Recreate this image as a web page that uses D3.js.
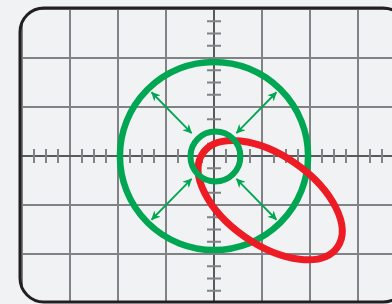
<!DOCTYPE html>
<html><head><meta charset="utf-8">
<script src="https://cdn.jsdelivr.net/npm/d3@7"></script>
<style>html,body{margin:0;padding:0;background:#f1f2f4;}svg{display:block;}</style>
</head><body>
<script>
// grid divisions (units)
const gridX = [-4,-3,-2,-1,0,1,2,3,4];
const gridY = [-3,-2,-1,0,1,2,3];
const minorStep = 0.25;
// green circles: centers and radii (units)
const circleCenters = [[0,0],[0.03,-0.01]];
const circleRadii = [1.96, 0.52];
const circleWidths = [6.5, 6];
// red ellipse
const ellipseCenter = [1.17, -0.9];
const ellipseAxes = [1.71, 0.93];
const ellipseAngle = 35;
// arrows: angle (deg) and radial span (units)
const arrowAngles = [45, 135, 225, 315];
const arrowSpan = [0.66, 1.84];

const W = 392, H = 304;
const x = d3.scaleLinear().domain([-4,4]).range([22,406]);
const y = d3.scaleLinear().domain([-3,3]).range([303,9]);
const unit = x(1)-x(0);

const svg = d3.select("body").append("svg").attr("width",W).attr("height",H);
const defs = svg.append("defs");
const fx0 = x(-4)-2, fx1 = x(4)+1, fy0 = y(3)-1, fy1 = y(-3)-1;
defs.append("clipPath").attr("id","frame").append("rect")
  .attr("x",fx0).attr("y",fy0).attr("width",fx1-fx0).attr("height",fy1-fy0).attr("rx",24);
const mk = defs.append("marker").attr("id","ah").attr("viewBox","0 0 10 10")
  .attr("refX",9.5).attr("refY",5).attr("markerWidth",5).attr("markerHeight",5)
  .attr("markerUnits","strokeWidth").attr("orient","auto-start-reverse");
mk.append("path").attr("d","M0,0 L10,5 L0,10 L3,5 Z").attr("fill","#00a651");

const g = svg.append("g").attr("clip-path","url(#frame)");
// grid
g.selectAll(".gx").data(gridX).join("line")
  .attr("x1",d=>x(d)).attr("x2",d=>x(d)).attr("y1",fy0).attr("y2",fy1)
  .attr("stroke",d=>d===0?"#58595b":"#808285").attr("stroke-width",2);
g.selectAll(".gy").data(gridY).join("line")
  .attr("y1",d=>y(d)).attr("y2",d=>y(d)).attr("x1",fx0).attr("x2",fx1)
  .attr("stroke",d=>d===0?"#58595b":"#808285").attr("stroke-width",2);
// minor ticks
const mx = d3.range(-4, 4.001, minorStep).filter(v=>Math.abs(v-Math.round(v))>1e-6);
const my = d3.range(-3, 3.001, minorStep).filter(v=>Math.abs(v-Math.round(v))>1e-6);
g.selectAll(".tx").data(mx).join("line")
  .attr("x1",d=>x(d)).attr("x2",d=>x(d)).attr("y1",y(0)-7).attr("y2",y(0)+7)
  .attr("stroke","#808285").attr("stroke-width",2);
g.selectAll(".ty").data(my).join("line")
  .attr("y1",d=>y(d)).attr("y2",d=>y(d)).attr("x1",x(0)-7).attr("x2",x(0)+7)
  .attr("stroke","#808285").attr("stroke-width",2);

// frame
svg.append("rect").attr("x",fx0).attr("y",fy0).attr("width",fx1-fx0).attr("height",fy1-fy0)
  .attr("rx",24).attr("fill","none").attr("stroke","#231f20").attr("stroke-width",3);

// big circle
svg.append("circle").attr("cx",x(circleCenters[0][0])).attr("cy",y(circleCenters[0][1]))
  .attr("r",circleRadii[0]*unit).attr("fill","none").attr("stroke","#00a651").attr("stroke-width",circleWidths[0]);
// red ellipse
svg.append("ellipse").attr("cx",0).attr("cy",0)
  .attr("rx",ellipseAxes[0]*unit).attr("ry",ellipseAxes[1]*unit)
  .attr("transform",`translate(${x(ellipseCenter[0])},${y(ellipseCenter[1])}) rotate(${ellipseAngle})`)
  .attr("fill","none").attr("stroke","#ed1c24").attr("stroke-width",7);
// small circle
svg.append("circle").attr("cx",x(circleCenters[1][0])).attr("cy",y(circleCenters[1][1]))
  .attr("r",circleRadii[1]*unit).attr("fill","none").attr("stroke","#00a651").attr("stroke-width",circleWidths[1]);
// arrows
svg.selectAll(".arr").data(arrowAngles).join("line")
  .attr("x1",a=>x(arrowSpan[0]*Math.cos(a*Math.PI/180)))
  .attr("y1",a=>y(arrowSpan[0]*Math.sin(a*Math.PI/180)))
  .attr("x2",a=>x(arrowSpan[1]*Math.cos(a*Math.PI/180)))
  .attr("y2",a=>y(arrowSpan[1]*Math.sin(a*Math.PI/180)))
  .attr("stroke","#00a651").attr("stroke-width",1.8)
  .attr("marker-start","url(#ah)").attr("marker-end","url(#ah)");
</script>
</body></html>
